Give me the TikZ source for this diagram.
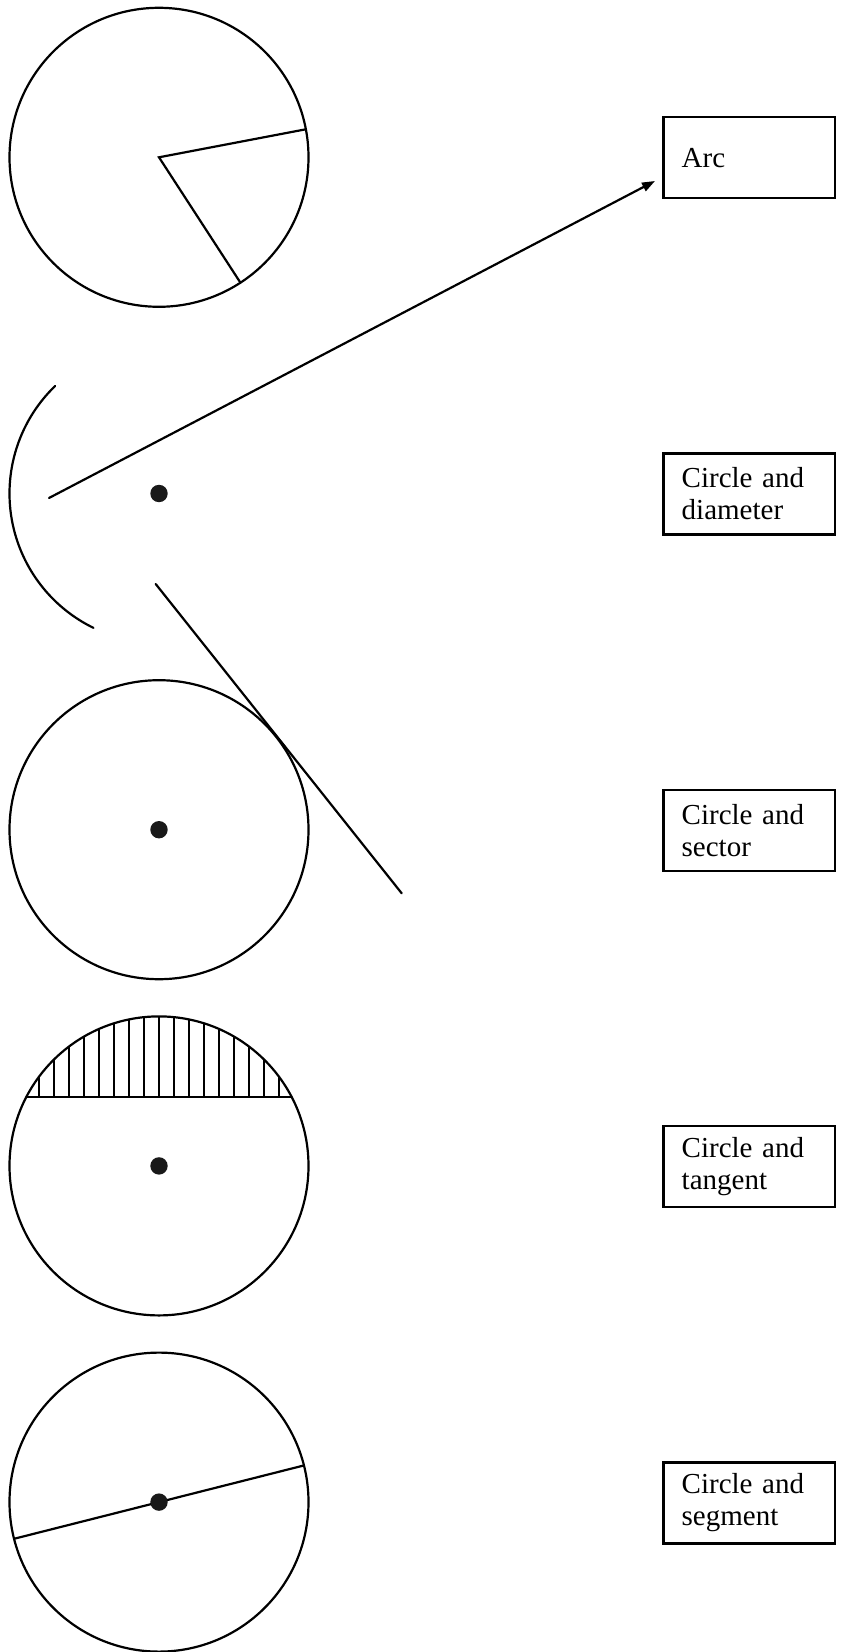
\documentclass[tikz,border=0pt]{standalone}
\usepackage{fontspec}
\setmainfont{Liberation Serif}
\usetikzlibrary{arrows.meta,calc}
\begin{document}
\begin{tikzpicture}[x=0.5pt,y=0.5pt,
  shape line/.style={line width=1.1pt,line cap=round},
  centre dot/.style={circle,fill=black!90,inner sep=0pt,minimum size=8.7pt},
  labelbox/.style={draw,line width=1.2pt,rectangle,align=left,
    text width=67.5pt,inner xsep=9.2pt,inner ysep=0pt,
    minimum width=85.8pt,minimum height=40.5pt,
    font=\fontsize{14.5}{16}\selectfont},
  arrowline/.style={shape line,-{Triangle[length=6.5pt,width=4.6pt]}}]
\def\R{74.75pt}
\useasboundingbox (0,0) rectangle (841,-1652);
% centres
\coordinate (c1) at (159,-157.3);
\coordinate (c2) at (159,-493.5);
\coordinate (c3) at (159,-829.7);
\coordinate (c4) at (159,-1165.9);
\coordinate (c5) at (159,-1502.1);
% boxes
\node[labelbox] (arc) at (749.2,-157.7) {Arc};
\node[labelbox] (diam) at (749.2,-494) {Circle and\\diameter};
\node[labelbox] (sector) at (749.2,-830.3) {Circle and\\sector};
\node[labelbox] (tangent) at (749.2,-1166.6) {Circle and\\tangent};
\node[labelbox] (segment) at (749.2,-1502.9) {Circle and\\segment};
% circle 1 with sector
\draw[shape line] (c1) circle[radius=\R];
\draw[shape line,line join=miter] ($(c1)+(10.8:\R)$) -- (c1) -- ($(c1)+(-57:\R)$);
% arc 2
\draw[shape line] ($(c2)+(134:\R)$) arc[start angle=134,end angle=244,radius=\R];
\node[centre dot] (d2) at (c2) {};
% arrow
\coordinate (a1) at (49,-498);
\coordinate (a2) at (655,-181);
\draw[arrowline] (a1) -- (a2);
% tangent line
\coordinate (t1) at (155.7,-584);
\coordinate (t2) at (401.7,-893.3);
\draw[shape line] (t1) -- (t2);
% circle 3
\draw[shape line] (c3) circle[radius=\R];
\node[centre dot] (d3) at (c3) {};
% circle 4 with hatched segment
\begin{scope}
  \clip (c4) circle[radius=\R];
  \foreach \k in {-8,...,8} {
    \draw[line width=1.1pt] ($(c4)+(15*\k,69.2)$) -- ($(c4)+(15*\k,200)$);
  }
\end{scope}
\draw[shape line] ($(c4)+(-132.6,69.2)$) -- ($(c4)+(132.6,69.2)$);
\draw[shape line] (c4) circle[radius=\R];
\node[centre dot] (d4) at (c4) {};
% circle 5 with diameter
\draw[shape line] (c5) circle[radius=\R];
\draw[shape line] ($(c5)+(194.2:\R)$) -- ($(c5)+(14.2:\R)$);
\node[centre dot] (d5) at (c5) {};
\end{tikzpicture}
\end{document}
